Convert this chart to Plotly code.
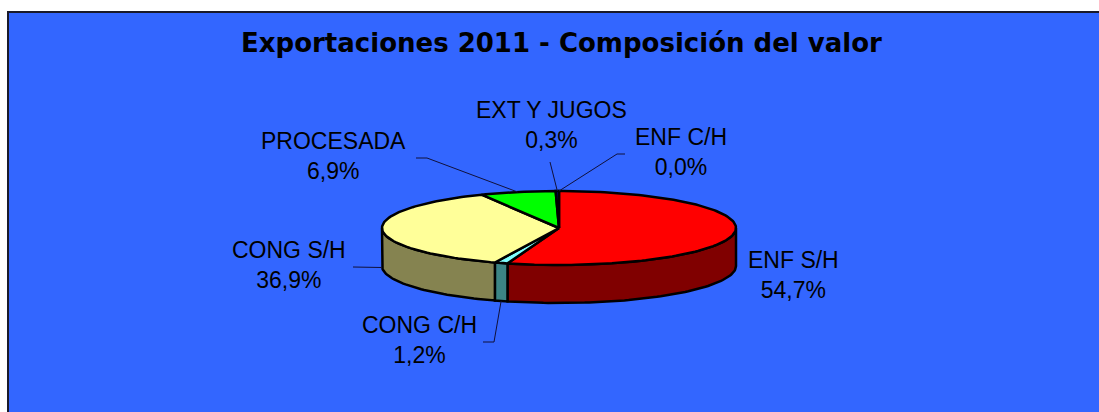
import numpy as np
import plotly.graph_objects as go

# ---- data ----
categories = ["ENF S/H", "CONG C/H", "CONG S/H", "PROCESADA", "EXT Y JUGOS", "ENF C/H"]
shares = [54.7, 1.2, 36.9, 6.9, 0.3, 0.0]
top_colors = ["#FF0000", "#7FFFFF", "#FFFF99", "#00FF00", "#000080", "#993366"]
side_colors = ["#800000", "#3C8585", "#858350", "#008000", "#000040", "#4C1933"]
title_text = "Exportaciones 2011 - Composición del valor"

# ---- layout geometry (pixel space) ----
W, H = 1099, 412
CX, CY = 559, 228
RX, RY = 177, 37
DEPTH = 38

def pt(theta_deg, drop=0.0):
    t = np.radians(theta_deg)
    return CX + RX * np.sin(t), CY - RY * np.cos(t) + drop

def arc(a, b, drop=0.0):
    n = max(3, int(abs(b - a) / 1.5) + 2)
    th = np.linspace(a, b, n)
    x, y = pt(th, drop)
    return list(x), list(y)

fig = go.Figure()

# background panel
fig.add_shape(type="rect", xref="x", yref="y", x0=8, y0=12, x1=W + 5, y1=H + 5,
              fillcolor="#3366FF", line=dict(color="#1a1a2a", width=2), layer="below")

total = sum(shares)
cum = np.concatenate([[0], np.cumsum(shares)]) / total * 360.0

# sides (visible front half: 90..270 deg clockwise from top)
for i, cat in enumerate(categories):
    a, b = cum[i], cum[i + 1]
    lo, hi = max(a, 90), min(b, 270)
    if hi - lo <= 0:
        continue
    xt, yt = arc(lo, hi)
    xb, yb = arc(hi, lo, DEPTH)
    fig.add_trace(go.Scatter(x=xt + xb + [xt[0]], y=yt + yb + [yt[0]], mode="lines",
                             fill="toself", fillcolor=side_colors[i],
                             line=dict(color="black", width=2.5), hoverinfo="skip",
                             showlegend=False))

# tops
for i, cat in enumerate(categories):
    a, b = cum[i], cum[i + 1]
    if b - a <= 0:
        continue
    xa, ya = arc(a, b)
    fig.add_trace(go.Scatter(x=[CX] + xa + [CX], y=[CY] + ya + [CY], mode="lines",
                             fill="toself", fillcolor=top_colors[i],
                             line=dict(color="black", width=2.5), hoverinfo="skip",
                             showlegend=False, name=cat))

# labels and leader lines
label_pos = {
    "ENF S/H": (793, 275, None),
    "CONG C/H": (419, 340, [(483, 342), (494, 342)]),
    "CONG S/H": (289, 265, [(353, 267)]),
    "PROCESADA": (333, 156, [(416, 158), (427, 158)]),
    "EXT Y JUGOS": (551, 125, [(550, 162)]),
    "ENF C/H": (681, 152, [(625, 154), (617, 154)]),
}
for i, cat in enumerate(categories):
    lx, ly, leader = label_pos[cat]
    mid = (cum[i] + cum[i + 1]) / 2
    pct = f"{shares[i] / total * 100:.1f}".replace(".", ",") + "%"
    fig.add_annotation(x=lx, y=ly, xref="x", yref="y", text=f"{cat}<br>{pct}",
                       showarrow=False, xanchor="center", yanchor="middle",
                       font=dict(family="Liberation Sans, Arial", size=23, color="black"))
    if leader:
        drop = DEPTH if 90 < mid < 270 else 0
        px, py = pt(mid, drop)
        xs = [p[0] for p in leader] + [px]
        ys = [p[1] for p in leader] + [py]
        fig.add_trace(go.Scatter(x=xs, y=ys, mode="lines",
                                 line=dict(color="#10103a", width=1),
                                 hoverinfo="skip", showlegend=False))

fig.add_annotation(x=561, y=43, xref="x", yref="y", text=f"<b>{title_text}</b>",
                   showarrow=False, xanchor="center", yanchor="middle",
                   font=dict(family="DejaVu Sans, Arial", size=26, color="black"))

fig.update_layout(width=W, height=H, margin=dict(l=0, r=0, t=0, b=0), autosize=False,
                  paper_bgcolor="white", plot_bgcolor="white",
                  xaxis=dict(range=[0, W], visible=False, fixedrange=True),
                  yaxis=dict(range=[H, 0], visible=False, fixedrange=True),
                  showlegend=False)
fig.write_html("out.html")
